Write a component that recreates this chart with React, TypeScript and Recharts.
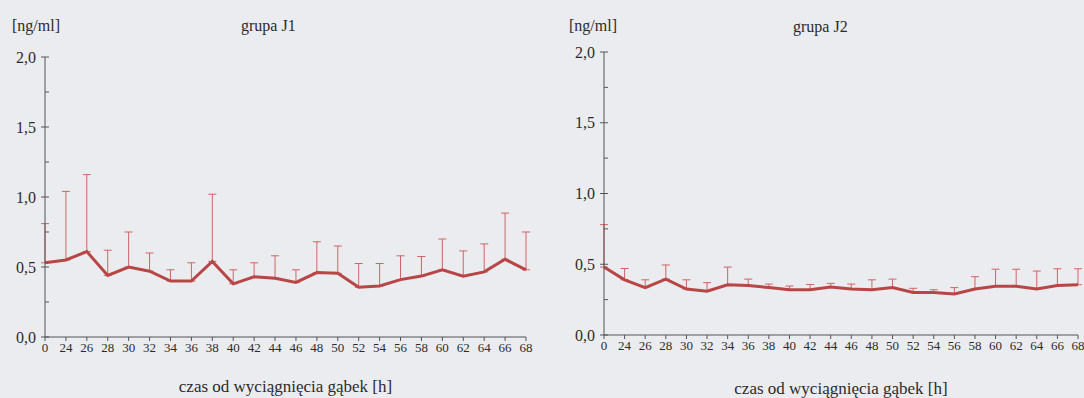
import React from "react";
import { LineChart, Line, XAxis, YAxis, ErrorBar, Label } from "recharts";

const hours = ["0", "24", "26", "28", "30", "32", "34", "36", "38", "40", "42", "44", "46", "48", "50", "52", "54", "56", "58", "60", "62", "64", "66", "68"];

const j1Mean = [0.53, 0.55, 0.61, 0.44, 0.5, 0.47, 0.4, 0.4, 0.54, 0.38, 0.43, 0.42, 0.39, 0.46, 0.455, 0.355, 0.365, 0.41, 0.435, 0.48, 0.435, 0.465, 0.555, 0.48];
const j1Sd = [0.28, 0.49, 0.55, 0.18, 0.25, 0.13, 0.08, 0.13, 0.48, 0.1, 0.1, 0.16, 0.09, 0.22, 0.195, 0.17, 0.16, 0.17, 0.14, 0.22, 0.18, 0.2, 0.33, 0.27];

const j2Mean = [0.48, 0.39, 0.335, 0.395, 0.325, 0.31, 0.355, 0.35, 0.335, 0.32, 0.32, 0.34, 0.325, 0.32, 0.335, 0.3, 0.3, 0.29, 0.325, 0.345, 0.345, 0.325, 0.35, 0.355];
const j2Sd = [0.3, 0.08, 0.055, 0.1, 0.065, 0.06, 0.125, 0.045, 0.025, 0.026, 0.037, 0.025, 0.035, 0.07, 0.06, 0.03, 0.02, 0.045, 0.087, 0.12, 0.12, 0.127, 0.118, 0.113];

const yTicks = [0, 0.25, 0.5, 0.75, 1, 1.25, 1.5, 1.75, 2];

const LINE = "#b84646";
const BAR = "#cf6464";
const AXIS = "#555";
const TEXT = "#2b2b2b";
const FONT = "Liberation Serif, Times New Roman, Times, DejaVu Serif, serif";

const build = (mean: number[], sd: number[]) =>
  hours.map((t, i) => ({ t, mean: mean[i], err: [0, sd[i]] }));

const YTick = (props: any) => {
  const { x, y, payload } = props;
  const major = Math.abs((payload.value * 2) % 1) < 1e-6;
  return (
    <g>
      <line x1={major ? x - 4 : x} x2={x + 4} y1={y} y2={y} stroke={AXIS} strokeWidth={1} />
      {major && (
        <text x={x - 9} y={y} dy="0.35em" textAnchor="end" fontSize={16} fill={TEXT} style={{ fontFamily: FONT }}>
          {payload.value.toFixed(1).replace(".", ",")}
        </text>
      )}
    </g>
  );
};

const Panel = ({ data, width, top, bottom, right, axisW, titleOffset }: any) => (
  <LineChart
    width={width}
    height={398}
    data={data}
    margin={{ top, right, bottom, left: 0 }}
    style={{ fontFamily: FONT }}
  >
    <XAxis
      dataKey="t"
      interval={0}
      tickSize={4}
      tickMargin={2}
      height={30}
      stroke={AXIS}
      tick={{ fontSize: 13, fill: TEXT, style: { fontFamily: FONT } }}
    >
      <Label
        value="czas od wyciągnięcia gąbek [h]"
        position="bottom"
        offset={titleOffset}
        style={{ fontSize: 17, fill: TEXT, fontFamily: FONT }}
      />
    </XAxis>
    <YAxis
      domain={[0, 2]}
      ticks={yTicks}
      interval={0}
      width={axisW}
      tickSize={0}
      tickMargin={0}
      tickLine={false}
      stroke={AXIS}
      tick={<YTick />}
    />
    <Line
      type="linear"
      dataKey="mean"
      stroke={LINE}
      strokeWidth={3}
      dot={false}
      isAnimationActive={false}
    >
      <ErrorBar dataKey="err" direction="y" width={4} stroke={BAR} strokeWidth={1} isAnimationActive={false} />
    </Line>
  </LineChart>
);

const head = (left: number, top: number, text: string) => (
  <div style={{ position: "absolute", left, top, fontSize: 16, color: TEXT, fontFamily: FONT, whiteSpace: "nowrap" }}>
    {text}
  </div>
);

export default function App() {
  const d1 = build(j1Mean, j1Sd);
  const d2 = build(j2Mean, j2Sd);
  return (
    <div style={{ position: "absolute", left: 0, top: 0, width: 1084, height: 398, background: "#ebecf0", overflow: "hidden", fontFamily: FONT }}>
      <div style={{ position: "absolute", left: 0, top: 0 }}>
        <Panel data={d1} width={540} top={57} bottom={31} right={14} axisW={45} titleOffset={13} />
      </div>
      <div style={{ position: "absolute", left: 560, top: 0 }}>
        <Panel data={d2} width={524} top={52} bottom={33} right={6} axisW={44} titleOffset={17} />
      </div>
      {head(12, 17, "[ng/ml]")}
      {head(241, 17, "grupa J1")}
      {head(569, 17, "[ng/ml]")}
      {head(793, 18, "grupa J2")}
    </div>
  );
}
